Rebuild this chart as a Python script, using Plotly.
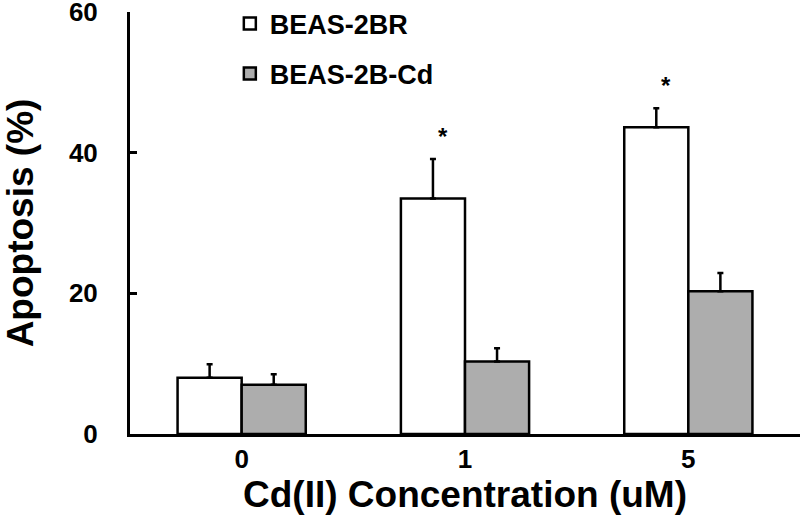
import plotly.graph_objects as go

categories = ["0", "1", "5"]
beas_2br = [8.0, 33.5, 43.6]
beas_2br_err = [1.9, 5.6, 2.7]
beas_2b_cd = [7.0, 10.3, 20.3]
beas_2b_cd_err = [1.5, 1.9, 2.6]
significant = [False, True, True]

FONT = "Arial, Liberation Sans, sans-serif"
BARGAP = 0.426

fig = go.Figure()
fig.add_trace(go.Bar(
    x=categories, y=beas_2br, name="BEAS-2BR", legendgroup="a",
    marker=dict(color="white", line=dict(color="black", width=2.5)),
    error_y=dict(type="data", symmetric=False, array=beas_2br_err,
                 arrayminus=[0] * len(categories), color="black", thickness=2.5, width=3),
))
fig.add_trace(go.Bar(
    x=categories, y=beas_2b_cd, name="BEAS-2B-Cd", legendgroup="b",
    marker=dict(color="#adadad", line=dict(color="black", width=2.5)),
    error_y=dict(type="data", symmetric=False, array=beas_2b_cd_err,
                 arrayminus=[0] * len(categories), color="black", thickness=2.5, width=3),
))

half = (1 - BARGAP) / 4
for i, (v, e, s) in enumerate(zip(beas_2br, beas_2br_err, significant)):
    if s:
        fig.add_annotation(x=i - half, y=v + e + 1.0, text="*", showarrow=False,
                           xshift=10, yanchor="bottom",
                           font=dict(family=FONT, size=24, color="black", weight="bold"))

fig.update_layout(
    width=800, height=519,
    margin=dict(l=130, r=0, t=12, b=85, autoexpand=False),
    paper_bgcolor="white", plot_bgcolor="white",
    barmode="group", bargap=BARGAP, bargroupgap=0,
    font=dict(family=FONT, color="black"),
    legend=dict(x=0.149, y=1.03, xanchor="left", yanchor="top",
                font=dict(family=FONT, size=27, color="black", weight="bold"),
                tracegroupgap=12, traceorder="grouped", bgcolor="rgba(0,0,0,0)"),
    showlegend=True,
)
fig.update_xaxes(
    type="category", range=[-0.5, 2.5], showline=True, linecolor="black", linewidth=3,
    ticks="", showgrid=False, zeroline=False, ticklabelstandoff=0, automargin=False,
    tickfont=dict(family=FONT, size=26, color="black", weight="bold"),
    title=dict(text="Cd(II) Concentration (uM)", standoff=4,
               font=dict(family=FONT, size=37, color="black", weight="bold")),
)
fig.update_yaxes(
    range=[0, 60], tickvals=[0, 20, 40, 60], showline=True, linecolor="black", linewidth=3,
    ticks="inside", ticklen=7, tickwidth=3, tickcolor="black", showgrid=False, zeroline=False,
    ticklabelstandoff=24, ticklabeloverflow="allow", automargin=False,
    tickfont=dict(family=FONT, size=26, color="black", weight="bold"),
    title=dict(text="Apoptosis (%)", standoff=34,
               font=dict(family=FONT, size=37, color="black", weight="bold")),
)

fig.write_html("out.html", config={"displayModeBar": False},
               post_script="document.body.style.margin='0';")
